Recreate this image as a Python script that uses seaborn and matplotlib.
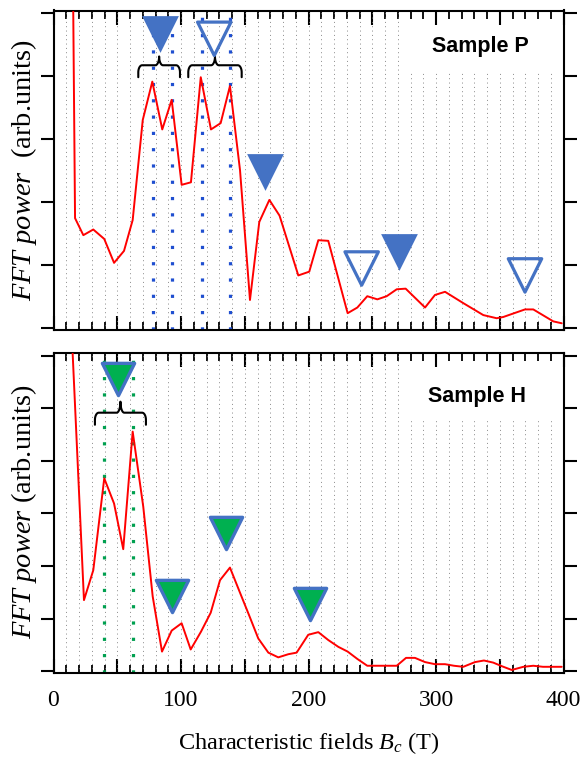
import numpy as np
import matplotlib
matplotlib.use("Agg")
import matplotlib.pyplot as plt
from matplotlib import font_manager
import seaborn as sns

# ---------------- data ----------------
p_x = [9.1, 16.9, 23.4, 31.2, 39.8, 47.5, 55.3, 62.1, 70.0, 77.5, 85.3, 92.7, 100.5, 107.8,
       115.5, 123.5, 131.1, 138.4, 146.3, 154.1, 161.4, 169.3, 177.3, 192.0, 200.6, 207.7,
       215.5, 230.7, 238.3, 246.1, 254.0, 261.3, 269.2, 276.2, 291.4, 299.2, 307.1, 321.4,
       337.1, 347.6, 352.8, 369.8, 376.3, 392.0, 398.6]
p_y = [19.9, 1.74, 1.47, 1.56, 1.41, 1.03, 1.22, 1.71, 3.30, 3.91, 3.15, 3.62, 2.27, 2.31,
       3.98, 3.15, 3.25, 3.84, 2.50, 0.44, 1.68, 2.03, 1.78, 0.83, 0.89, 1.39,
       1.38, 0.23, 0.32, 0.50, 0.45, 0.50, 0.61, 0.62, 0.32, 0.52, 0.57, 0.39,
       0.20, 0.15, 0.17, 0.29, 0.29, 0.10, 0.07]

h_x = [8.3, 23.9, 31.2, 39.8, 47.5, 54.7, 62.1, 70.4, 77.8, 85.1, 92.7, 100.5, 107.6, 115.7,
       123.3, 130.6, 138.4, 146.3, 153.6, 160.6, 168.5, 176.3, 184.2, 190.7, 199.8, 207.7,
       215.5, 223.4, 230.7, 238.3, 246.1, 253.5, 261.3, 269.2, 276.5, 283.5, 291.4, 299.2,
       307.1, 314.1, 321.4, 330.6, 337.6, 344.9, 351.8, 359.4, 368.5, 376.3, 383.9, 398.6]
h_y = [9.6, 1.35, 1.92, 3.67, 3.19, 2.32, 4.56, 3.13, 1.42, 0.37, 0.77, 0.91, 0.41, 0.75,
       1.11, 1.73, 1.97, 1.49, 1.05, 0.62, 0.35, 0.26, 0.32, 0.35, 0.69, 0.74,
       0.59, 0.46, 0.37, 0.23, 0.10, 0.10, 0.10, 0.10, 0.25, 0.25, 0.17, 0.13,
       0.13, 0.10, 0.08, 0.17, 0.20, 0.16, 0.09, 0.02, 0.08, 0.10, 0.08, 0.08]

# triangle markers
p_fill_x = [83.5, 165.9, 271.0]
p_fill_y = [4.67, 2.47, 1.21]
p_open_x = [126.1, 241.7, 369.8]
p_open_y = [4.59, 0.94, 0.83]
h_mark_x = [50.8, 92.7, 135.1, 201.2]
h_mark_y = [5.56, 1.42, 2.62, 1.28]

# vertical dotted guide lines
p_guides = [77.8, 92.7, 116.2, 138.4]
h_guides = [39.8, 62.6]

# braces: (x_start, x_end)
p_braces = [(66.5, 99.2), (105.7, 147.6)]
h_braces = [(32.5, 72.5)]

x_ticks_major = [0, 100, 200, 300, 400]
grid_x = list(range(10, 400, 10))

# ---------------- style ----------------
sns.set_theme(style="ticks")
avail = {f.name for f in font_manager.fontManager.ttflist}
serif = "Liberation Serif" if "Liberation Serif" in avail else "DejaVu Serif"
sans = "Liberation Sans" if "Liberation Sans" in avail else "DejaVu Sans"
plt.rcParams["font.family"] = [serif, "DejaVu Serif"]
plt.rcParams["mathtext.fontset"] = "custom"
plt.rcParams["mathtext.rm"] = serif
plt.rcParams["mathtext.it"] = serif + ":italic"
plt.rcParams["text.color"] = "black"
plt.rcParams["axes.labelcolor"] = "black"
plt.rcParams["xtick.color"] = "black"
plt.rcParams["ytick.color"] = "black"

BLUE = "#4472C4"
GUIDE_BLUE = "#1f4fd0"
GREEN = "#00B050"
GUIDE_GREEN = "#00A050"

fig = plt.figure(figsize=(5.8, 7.58), dpi=100)
ax1 = fig.add_axes([53.5 / 580, 1 - 330 / 758, 510 / 580, 319.5 / 758])
ax2 = fig.add_axes([53.5 / 580, 1 - 673 / 758, 510 / 580, 320 / 758])


def brace(ax, x0, x1, y_line, y_end, y_tip, rx=3.0):
    xc = (x0 + x1) / 2
    t = np.linspace(0, np.pi / 2, 12)
    h = (y_line - y_end) * 0.6
    xs = [x0]
    ys = [y_end]
    xs += list(x0 + rx * (1 - np.cos(t)))
    ys += list(y_line - h + h * np.sin(t))
    xs += list(xc - rx + rx * np.sin(t))
    ys += list(y_line + (y_tip - y_line) * (1 - np.cos(t)))
    xs += list(xc + rx - rx * np.sin(t[::-1]))
    ys += list(y_line + (y_tip - y_line) * (1 - np.cos(t[::-1])))
    xs += list(x1 - rx * (1 - np.cos(t[::-1])))
    ys += list(y_line - h + h * np.sin(t[::-1]))
    xs += [x1]
    ys += [y_end]
    ax.plot(xs, ys, color="black", lw=1.5, solid_joinstyle="round", zorder=4)


def style_axes(ax, ymax_ticks, ylim, grid_cut):
    ax.set_xlim(0, 400)
    ax.set_ylim(*ylim)
    for x in grid_x:
        top = grid_cut if x >= 280 else 1.0
        ax.axvline(x, 0, top, color="#777777", lw=0.65, ls=(0, (1, 3.8)), zorder=1)
    for s in ax.spines.values():
        s.set_visible(True)
        s.set_linewidth(1.5)
        s.set_color("black")
    ax.xaxis.set_minor_locator(matplotlib.ticker.MultipleLocator(10))
    ax.xaxis.set_major_locator(matplotlib.ticker.MultipleLocator(50))
    ax.tick_params(axis="x", which="major", direction="in", length=10, width=1.5,
                   top=True, bottom=True, labelsize=17, pad=12, color="black",
                   labelcolor="black")
    ax.tick_params(axis="x", which="minor", direction="in", length=5.5, width=1.3,
                   top=True, bottom=True, color="black")
    ax.set_yticks(list(range(0, ymax_ticks + 1)))
    ax.tick_params(axis="y", which="major", direction="out", length=9.5, width=1.5,
                   left=True, right=True, labelleft=False, labelright=False, color="black")
    ax.set_ylabel("")
    ax.set_xlabel("")


# ---------------- top panel ----------------
sns.lineplot(x=p_x, y=p_y, ax=ax1, color="red", lw=1.4, zorder=3, sort=False)
style_axes(ax1, 5, (-0.037, 5.04), 0.814)
for gx in p_guides:
    ax1.axvline(gx, color=GUIDE_BLUE, lw=2.3, ls=(0, (1, 4.1)), dash_capstyle="butt", zorder=2)
sns.scatterplot(x=p_fill_x, y=p_fill_y, ax=ax1, marker="v", s=700, color=BLUE,
                edgecolor=BLUE, linewidth=0, zorder=5)
sns.scatterplot(x=p_open_x, y=p_open_y, ax=ax1, marker="v", s=580, color=BLUE,
                edgecolor=BLUE, linewidth=2.3, zorder=5)
coll = ax1.collections[-1]
coll.set_facecolor("none")
coll.set_edgecolor(BLUE)
for x0, x1 in p_braces:
    brace(ax1, x0, x1, 4.17, 3.98, 4.31)
ax1.text(334.9, 4.38, "Sample P", ha="center", va="baseline", fontsize=15.5,
         fontweight="bold", family=[sans, "DejaVu Sans"], color="black")
ax1.xaxis.set_major_formatter(matplotlib.ticker.NullFormatter())

# ---------------- bottom panel ----------------
sns.lineplot(x=h_x, y=h_y, ax=ax2, color="red", lw=1.4, zorder=3, sort=False)
style_axes(ax2, 6, (-0.038, 6.057), 0.79)
for gx in h_guides:
    ax2.axvline(gx, color=GUIDE_GREEN, lw=2.3, ls=(0, (1, 4.1)), dash_capstyle="butt", zorder=2)
sns.scatterplot(x=h_mark_x, y=h_mark_y, ax=ax2, marker="v", s=540, color=GREEN,
                edgecolor=BLUE, linewidth=2.4, zorder=5)
coll = ax2.collections[-1]
coll.set_facecolor(GREEN)
coll.set_edgecolor(BLUE)
for x0, x1 in h_braces:
    brace(ax2, x0, x1, 4.92, 4.69, 5.13)
ax2.text(331.8, 5.13, "Sample H", ha="center", va="baseline", fontsize=15.5,
         fontweight="bold", family=[sans, "DejaVu Sans"], color="black")
ax2.xaxis.set_major_formatter(matplotlib.ticker.FuncFormatter(
    lambda v, p: str(int(round(v))) if int(round(v)) in x_ticks_major else ""))
ax2.set_xlabel(r"Characteristic fields $B_c$ (T)", fontsize=17.5, labelpad=14, color="black")

# y labels as figure text
fig.text(24 / 580, 1 - 170 / 758, r"$FFT\ power$  (arb.units)", rotation=90,
         ha="center", va="center", fontsize=20.5, color="black")
fig.text(24 / 580, 1 - 512 / 758, r"$FFT\ power$ (arb.units)", rotation=90,
         ha="center", va="center", fontsize=20.5, color="black")

fig.savefig("out.png", dpi=100)
